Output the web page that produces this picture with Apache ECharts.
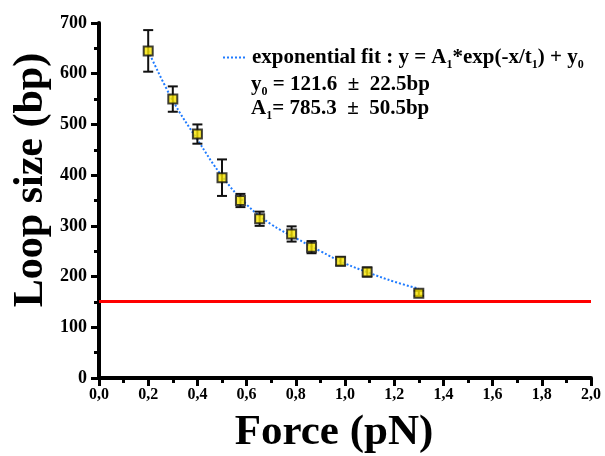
<!DOCTYPE html>
<html>
<head>
<meta charset="utf-8">
<script src="https://cdn.jsdelivr.net/npm/echarts@6/dist/echarts.min.js"></script>
<style>
html,body{margin:0;padding:0;background:#fff;}
#chart{width:605px;height:456px;}
</style>
</head>
<body>
<div id="chart"></div>
<script>
// Data
var forceX   = [0.2, 0.3, 0.4, 0.5, 0.575, 0.653, 0.783, 0.864, 0.982, 1.09, 1.3];
var loopSize = [645, 550, 481, 395, 350, 314, 284, 258, 230, 209, 167];
var loopErr  = [41, 25, 19, 36, 13, 14, 15, 12, 8, 9, 5];
// Fit curve points
var fitX = [0.2, 0.3, 0.4, 0.5, 0.6, 0.7, 0.8, 0.9, 1.0, 1.1, 1.2, 1.3];
var fitY = [645, 547, 470, 398, 342, 303, 276, 250, 226, 207, 190, 176];
var thresholdLevel = 151;
var yTicks = [0, 100, 200, 300, 400, 500, 600, 700];
var xTicks = [0, 0.2, 0.4, 0.6, 0.8, 1.0, 1.2, 1.4, 1.6, 1.8, 2.0];

var FONT = '"Liberation Serif", "Times New Roman", serif';

var points = forceX.map(function (x, i) { return [x, loopSize[i]]; });
var errData = forceX.map(function (x, i) { return [x, loopSize[i] - loopErr[i], loopSize[i] + loopErr[i]]; });
var fitData = fitX.map(function (x, i) { return [x, fitY[i]]; });

var richA = {fontFamily: FONT, fontWeight: 'bold', fontSize: 21, color: '#000', lineHeight: 23};
var richS = {fontFamily: FONT, fontWeight: 'bold', fontSize: 12, color: '#000', lineHeight: 23, verticalAlign: 'bottom', padding: [0,0,-2,0]};
function gRich(o) { var r = {}; for (var k in o) r[k] = o[k]; r.fill = r.color; delete r.color; return r; }

var chart = echarts.init(document.getElementById('chart'), null, {renderer: 'canvas'});
chart.setOption({
  animation: false,
  backgroundColor: '#ffffff',
  grid: {left: 99, right: 14, top: 23, bottom: 78, containLabel: false},
  xAxis: {
    type: 'value',
    min: xTicks[0], max: xTicks[xTicks.length - 1], interval: 0.2,
    axisLine: {show: true, lineStyle: {color: '#000', width: 4}},
    axisTick: {show: true, length: 8, lineStyle: {color: '#000', width: 3}},
    minorTick: {show: true, splitNumber: 2, length: 5, lineStyle: {color: '#000', width: 3}},
    splitLine: {show: false},
    axisLabel: {
      fontFamily: FONT, fontWeight: 'bold', fontSize: 16, color: '#000', margin: 9,
      formatter: function (v) { return v.toFixed(1).replace('.', ','); }
    }
  },
  yAxis: {
    type: 'value',
    min: yTicks[0], max: yTicks[yTicks.length - 1], interval: 100,
    axisLine: {show: true, lineStyle: {color: '#000', width: 4}},
    axisTick: {show: true, length: 8, lineStyle: {color: '#000', width: 3}},
    minorTick: {show: true, splitNumber: 2, length: 5, lineStyle: {color: '#000', width: 3}},
    splitLine: {show: false},
    axisLabel: {
      fontFamily: FONT, fontWeight: 'bold', fontSize: 18, color: '#000', margin: 12,
      padding: [0, 0, 9, 0]
    }
  },
  legend: {
    show: true,
    left: 222, top: 47, padding: 0,
    itemWidth: 24, itemHeight: 12, itemGap: 0,
    data: ['fit'],
    selectedMode: false,
    itemStyle: {opacity: 0},
    formatter: function () {
      return '{a|exponential fit : y = A}{s|1}{a|*exp(-x/t}{s|1}{a|) + y}{s|0}';
    },
    textStyle: {rich: {a: richA, s: richS}}
  },
  graphic: [
    {
      type: 'text', left: 251, top: 74,
      style: {text: '{a|y}{s|0}{a| = 121.6  ±  22.5bp}', rich: {a: gRich(richA), s: gRich(richS)}}
    },
    {
      type: 'text', left: 251, top: 98,
      style: {text: '{a|A}{s|1}{a|= 785.3  ±  50.5bp}', rich: {a: gRich(richA), s: gRich(richS)}}
    },
    {
      type: 'text', x: 31, y: 180, rotation: Math.PI / 2,
      style: {
        text: 'Loop size (bp)', fontFamily: FONT, fontWeight: 'bold', fontSize: 42,
        fill: '#000', align: 'center', verticalAlign: 'middle'
      }
    },
    {
      type: 'text', x: 334, y: 433,
      style: {
        text: 'Force (pN)', fontFamily: FONT, fontWeight: 'bold', fontSize: 43,
        fill: '#000', align: 'center', verticalAlign: 'middle'
      }
    }
  ],
  series: [
    {
      name: 'threshold',
      type: 'line',
      data: [],
      silent: true,
      markLine: {
        silent: true, symbol: 'none', animation: false,
        label: {show: false},
        lineStyle: {color: '#ff0000', width: 3, type: 'solid'},
        data: [{yAxis: thresholdLevel}]
      }
    },
    {
      name: 'fit',
      type: 'line',
      data: fitData,
      smooth: 0.4,
      symbol: 'none',
      showSymbol: false,
      lineStyle: {color: '#1f7bff', width: 2, type: [2, 2]},
      itemStyle: {color: '#1f7bff'},
      z: 3
    },
    {
      name: 'err',
      type: 'custom',
      data: errData,
      z: 4,
      renderItem: function (params, api) {
        var x = api.value(0);
        var lo = api.coord([x, api.value(1)]);
        var hi = api.coord([x, api.value(2)]);
        var cap = 5;
        var st = {stroke: '#111', lineWidth: 2};
        return {
          type: 'group',
          children: [
            {type: 'line', shape: {x1: lo[0], y1: lo[1], x2: hi[0], y2: hi[1]}, style: st},
            {type: 'line', shape: {x1: lo[0] - cap, y1: lo[1], x2: lo[0] + cap, y2: lo[1]}, style: st},
            {type: 'line', shape: {x1: hi[0] - cap, y1: hi[1], x2: hi[0] + cap, y2: hi[1]}, style: st}
          ]
        };
      }
    },
    {
      name: 'data',
      type: 'scatter',
      data: points,
      symbol: 'rect',
      symbolSize: 9,
      itemStyle: {color: '#f7e400', borderColor: '#111', borderWidth: 2},
      z: 5
    }
  ]
});
</script>
</body>
</html>
